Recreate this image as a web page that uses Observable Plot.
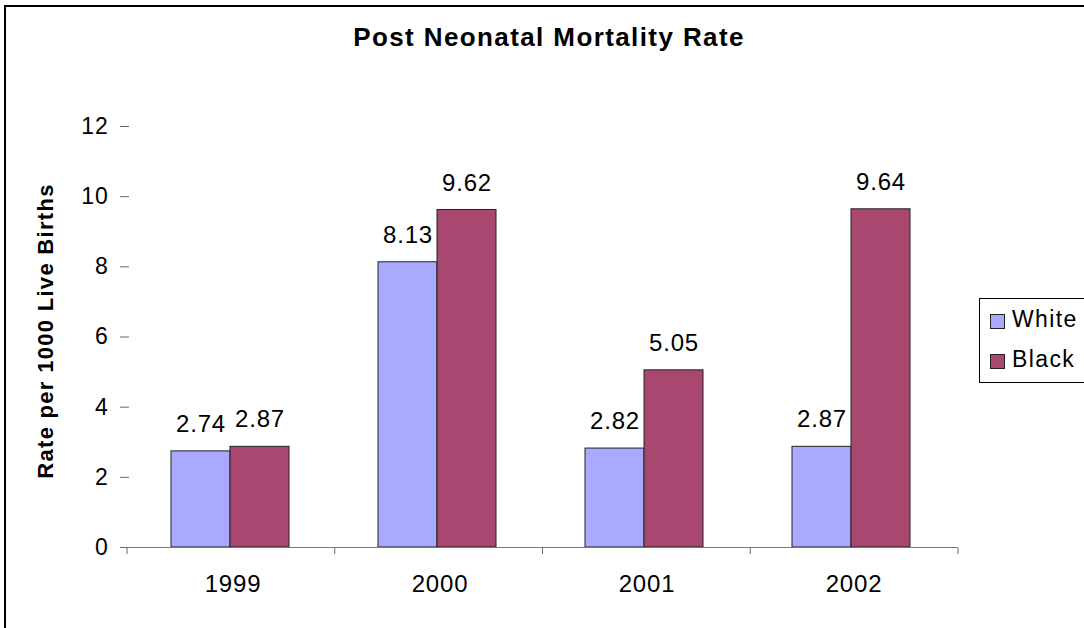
<!DOCTYPE html>
<html><head><meta charset="utf-8">
<script src="https://cdn.jsdelivr.net/npm/d3@7"></script>
<script src="https://cdn.jsdelivr.net/npm/@observablehq/plot@0.6"></script>
<style>
body{margin:0;background:#fff;font-family:"Liberation Sans",Arial,sans-serif;}
#wrap{position:relative;width:1084px;height:628px;overflow:hidden;background:#fff;}
#frame{position:absolute;left:4px;top:5px;width:1200px;height:700px;border-top:2px solid #000;border-left:2px solid #000;}
#title{position:absolute;left:549px;top:24px;transform:translateX(-50%);font-size:26px;line-height:26px;font-weight:bold;white-space:nowrap;letter-spacing:1.4px;}
#ylabel{position:absolute;left:-154px;top:320px;width:400px;height:22px;line-height:22px;text-align:center;font-size:22px;font-weight:bold;transform:rotate(-90deg);white-space:nowrap;letter-spacing:1.3px;}
#chart{position:absolute;left:0;top:0;}
#legend{position:absolute;left:979px;top:298px;width:120px;height:83px;border:1px solid #000;background:#fff;}
.sw{position:absolute;width:13px;height:13px;border:1px solid #222;}
.lt{position:absolute;font-size:23px;line-height:23px;white-space:nowrap;letter-spacing:1.4px;}
</style></head><body>
<div id="wrap">
 <div id="frame"></div>
 <div id="chart"></div>
 <div id="title">Post Neonatal Mortality Rate</div>
 <div id="ylabel">Rate per 1000 Live Births</div>
 <div id="legend"></div>
</div>
<script>
const years = ["1999", "2000", "2001", "2002"];
const series = ["White", "Black"];
const white = [2.74, 8.13, 2.82, 2.87];
const black = [2.87, 9.62, 5.05, 9.64];
const colors = ["#A9A9FF", "#A8476F"];
const yTicks = [0, 2, 4, 6, 8, 10, 12];

const data = years.flatMap((year, i) => [
  {year, series: "White", value: white[i]},
  {year, series: "Black", value: black[i]}
]);

const plot = Plot.plot({
  width: 1084, height: 628,
  marginTop: 126, marginBottom: 81, marginLeft: 127, marginRight: 126,
  style: {fontFamily: '"Liberation Sans", Arial, sans-serif', fontSize: "23px", color: "#000", background: "transparent", overflow: "visible", letterSpacing: "0.8px"},
  fx: {domain: years, padding: 0, axis: null},
  x: {domain: series, paddingInner: 0, paddingOuter: 0.74, align: 0.47, axis: null},
  y: {domain: [0, 12], axis: null},
  color: {type: "ordinal", domain: series, range: colors},
  marks: [
    Plot.barY(data, {fx: "year", x: "series", y: "value", fill: {value: d => d.series, scale: "color"}, stroke: "#222", strokeWidth: 1}),
    Plot.ruleY([0], {stroke: "#777", strokeWidth: 1}),
    Plot.text(data, {fx: "year", x: "series", y: "value", text: d => d.value.toFixed(2), dy: -27, fontSize: 24, fill: "#000"}),
    Plot.axisY({ticks: yTicks, tickSize: 9, tickPadding: 12, label: null, fontSize: 23, stroke: "#666", line: true}),
    Plot.axisFx({anchor: "bottom", tickSize: 0, tickPadding: 27, label: null, fontSize: 24})
  ]
});
document.getElementById("chart").appendChild(plot);

// category boundary ticks on the x axis, positioned with the plot's fx scale
const fxs = plot.scale("fx");
const band = d3.scaleBand(fxs.domain, fxs.range).paddingInner(fxs.paddingInner ?? 0).paddingOuter(fxs.paddingOuter ?? 0).align(fxs.align ?? 0.5);
const ys = plot.scale("y");
const y0 = d3.scaleLinear(ys.domain, ys.range)(0);
const bounds = years.map(y => band(y)).concat([band(years[years.length - 1]) + band.bandwidth()]);
d3.select(plot).append("g")
  .selectAll("line").data(bounds).join("line")
  .attr("x1", d => d).attr("x2", d => d)
  .attr("y1", y0).attr("y2", y0 + 7)
  .attr("stroke", "#666");

// legend
const lg = document.getElementById("legend");
const swTops = [15, 55];
const txTops = [9, 49];
series.forEach((s, i) => {
  const sw = document.createElement("div");
  sw.className = "sw";
  sw.style.left = "10px";
  sw.style.top = swTops[i] + "px";
  sw.style.background = colors[i];
  lg.appendChild(sw);
  const t = document.createElement("div");
  t.className = "lt";
  t.style.left = "32px";
  t.style.top = txTops[i] + "px";
  t.textContent = s;
  lg.appendChild(t);
});
</script>
</body></html>
